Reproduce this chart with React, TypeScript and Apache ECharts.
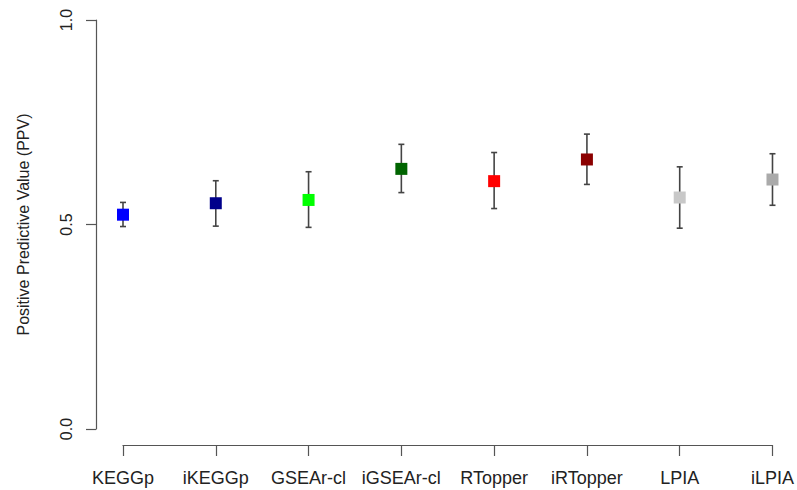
import React, { useEffect, useRef } from "react";
import * as echarts from "echarts";

const categories = ["KEGGp", "iKEGGp", "GSEAr-cl", "iGSEAr-cl", "RTopper", "iRTopper", "LPIA", "iLPIA"];
const ppv = [0.524, 0.552, 0.56, 0.636, 0.606, 0.659, 0.566, 0.61];
const lower = [0.495, 0.496, 0.493, 0.578, 0.539, 0.598, 0.491, 0.547];
const upper = [0.554, 0.607, 0.629, 0.696, 0.676, 0.721, 0.641, 0.673];
const colors = ["#0000FF", "#00008B", "#00FF00", "#006400", "#FF0000", "#8B0000", "#C8C8C8", "#AAAAAA"];
const yTicks = [0, 0.5, 1];

export default function App() {
  const ref = useRef<HTMLDivElement>(null);
  useEffect(() => {
    const chart = echarts.init(ref.current!, null, { renderer: "svg" });
    const font = "Liberation Sans, Arial, Helvetica, sans-serif";
    chart.setOption({
      animation: false,
      backgroundColor: "#ffffff",
      grid: { left: 123, right: 22, top: 20, bottom: 61 },
      xAxis: {
        type: "category",
        data: categories,
        boundaryGap: false,
        offset: 16,
        axisLine: { onZero: false, lineStyle: { color: "#555", width: 1.2 } },
        axisTick: { show: true, length: 11, lineStyle: { color: "#555", width: 1.2 } },
        axisLabel: { color: "#222", fontSize: 18, fontFamily: font, margin: 24, interval: 0, hideOverlap: false },
        splitLine: { show: false },
      },
      yAxis: {
        type: "value",
        min: 0,
        max: 1,
        interval: 0.5,
        offset: 27,
        name: "Positive Predictive Value (PPV)",
        nameLocation: "middle",
        nameRotate: 90,
        nameGap: 65,
        nameTextStyle: { color: "#222", fontSize: 16, fontFamily: font },
        axisLine: { show: true, lineStyle: { color: "#555", width: 1.2 } },
        axisTick: { show: true, length: 10, lineStyle: { color: "#555", width: 1.2 } },
        axisLabel: {
          color: "#222",
          fontSize: 16,
          fontFamily: font,
          rotate: 90,
          margin: 22,
          formatter: (v: number) => (yTicks.includes(v) ? v.toFixed(1) : ""),
        },
        splitLine: { show: false },
      },
      series: [
        {
          type: "custom",
          data: categories.map((_, i) => [i, lower[i], upper[i]]),
          renderItem: (params: any, api: any) => {
            const x = api.value(0);
            const lo = api.coord([x, api.value(1)]);
            const hi = api.coord([x, api.value(2)]);
            const cap = 3;
            const style = { stroke: "#444", lineWidth: 1.6, fill: "none" };
            return {
              type: "group",
              children: [
                { type: "line", shape: { x1: lo[0], y1: lo[1], x2: hi[0], y2: hi[1] }, style },
                { type: "line", shape: { x1: lo[0] - cap, y1: lo[1], x2: lo[0] + cap, y2: lo[1] }, style },
                { type: "line", shape: { x1: hi[0] - cap, y1: hi[1], x2: hi[0] + cap, y2: hi[1] }, style },
              ],
            };
          },
          z: 2,
        },
        {
          type: "scatter",
          symbol: "rect",
          symbolSize: 12,
          itemStyle: { opacity: 1 },
          data: ppv.map((v, i) => ({ value: [i, v], itemStyle: { color: colors[i], opacity: 1 } })),
          z: 3,
        },
      ],
    });
    return () => chart.dispose();
  }, []);
  return <div ref={ref} style={{ position: "absolute", left: 0, top: 0, width: 797, height: 490 }} />;
}
